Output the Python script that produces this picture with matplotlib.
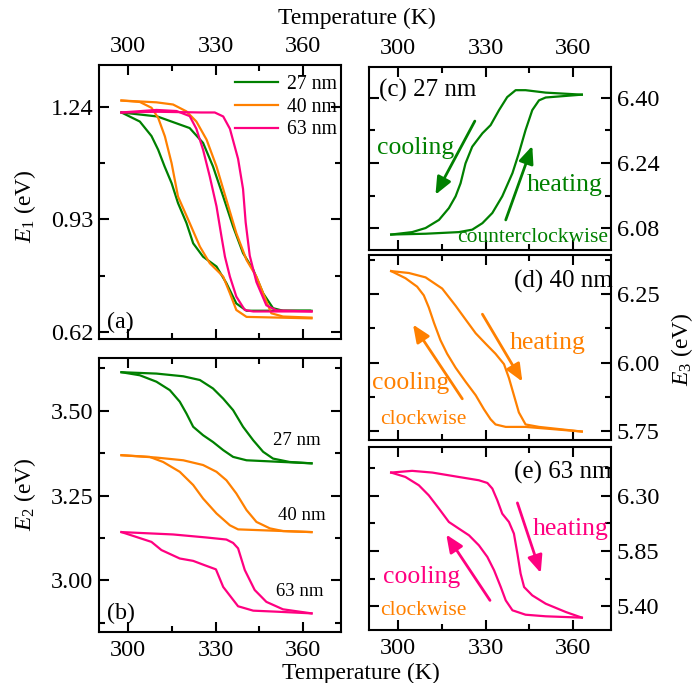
import matplotlib
matplotlib.use("Agg")
import matplotlib.pyplot as plt
from matplotlib.ticker import MultipleLocator

plt.rcParams["font.family"] = ["Liberation Serif", "DejaVu Serif"]
plt.rcParams["mathtext.fontset"] = "custom"
plt.rcParams["mathtext.rm"] = "Liberation Serif"
plt.rcParams["mathtext.it"] = "Liberation Serif:italic"

GREEN, ORANGE, PINK = "#008000", "#FF8000", "#FF0080"

# ── Data: (a) E1 ──────────────────────────────────────────────────────────────
e1_g_cool_t = [297.7, 304.0, 308.0, 310.3, 312.5, 314.9, 317.1, 320.0, 322.3, 325.7, 330.3,
               333.7, 337.1, 340.6, 362.3]
e1_g_cool_v = [1.225, 1.200, 1.160, 1.122, 1.076, 1.030, 0.975, 0.920, 0.864, 0.827, 0.800,
               0.754, 0.698, 0.678, 0.678]
e1_g_heat_t = [297.7, 310.0, 321.1, 325.7, 329.1, 332.6, 336.0, 339.4, 342.9, 346.3, 349.7, 353.1, 362.9]
e1_g_heat_v = [1.225, 1.214, 1.182, 1.141, 1.076, 0.993, 0.910, 0.837, 0.791, 0.726, 0.685, 0.678, 0.678]

e1_o_cool_t = [297.7, 304.0, 308.0, 310.3, 312.6, 314.9, 317.1, 321.1, 324.6, 328.0, 330.9,
               332.6, 334.9, 337.1, 340.6, 362.9]
e1_o_cool_v = [1.258, 1.254, 1.238, 1.210, 1.159, 1.085, 0.993, 0.920, 0.855, 0.809, 0.786,
               0.772, 0.726, 0.680, 0.661, 0.657]
e1_o_heat_t = [297.7, 309.7, 315.4, 320.0, 323.4, 326.9, 330.3, 333.7, 337.1, 340.6, 344.0,
               346.3, 349.1, 353.1, 362.9]
e1_o_heat_v = [1.258, 1.253, 1.247, 1.228, 1.200, 1.150, 1.076, 0.984, 0.892, 0.818, 0.772,
               0.726, 0.671, 0.662, 0.659]

e1_p_cool_t = [297.7, 309.7, 316.6, 321.1, 323.4, 325.7, 328.0, 330.3, 332.0, 333.2, 334.9,
               337.1, 340.0, 342.9, 362.9]
e1_p_cool_v = [1.225, 1.232, 1.229, 1.215, 1.180, 1.122, 1.048, 0.966, 0.883, 0.827, 0.772,
               0.717, 0.680, 0.676, 0.676]
e1_p_heat_t = [297.7, 310.0, 325.0, 329.7, 332.6, 334.9, 337.7, 339.4, 340.3, 341.7, 344.0,
               347.4, 350.9, 362.9]
e1_p_heat_v = [1.225, 1.227, 1.225, 1.225, 1.214, 1.180, 1.097, 1.014, 0.922, 0.830, 0.757,
               0.693, 0.679, 0.676]

# ── Data: (b) E2 ──────────────────────────────────────────────────────────────
e2_g_cool_t = [297.7, 304.0, 309.7, 314.3, 317.7, 320.0, 322.3, 325.7, 329.1, 332.6, 336.0, 340.6, 362.9]
e2_g_cool_v = [3.614, 3.605, 3.586, 3.561, 3.527, 3.492, 3.453, 3.428, 3.408, 3.384, 3.364, 3.354, 3.345]
e2_g_heat_t = [297.7, 309.7, 318.9, 324.6, 329.1, 332.6, 336.0, 339.4, 342.9, 346.3, 349.7, 355.4, 362.9]
e2_g_heat_v = [3.614, 3.610, 3.602, 3.591, 3.566, 3.536, 3.502, 3.453, 3.413, 3.379, 3.359, 3.349, 3.345]

e2_o_cool_t = [297.7, 307.4, 312.0, 317.7, 322.3, 325.7, 330.3, 334.9, 337.7, 344.0, 362.9]
e2_o_cool_v = [3.369, 3.364, 3.349, 3.320, 3.281, 3.241, 3.197, 3.162, 3.150, 3.148, 3.142]
e2_o_heat_t = [297.7, 309.7, 318.9, 325.7, 330.3, 333.7, 337.1, 340.6, 344.0, 348.6, 353.1, 362.9]
e2_o_heat_v = [3.369, 3.362, 3.354, 3.340, 3.320, 3.295, 3.256, 3.207, 3.172, 3.153, 3.145, 3.142]

e2_p_cool_t = [297.7, 308.0, 311.4, 317.7, 322.3, 326.3, 330.1, 332.6, 337.7, 342.9, 350.9, 362.9]
e2_p_cool_v = [3.142, 3.113, 3.089, 3.064, 3.057, 3.044, 3.032, 2.980, 2.923, 2.910, 2.907, 2.902]
e2_p_heat_t = [297.7, 315.4, 326.9, 333.7, 336.0, 337.7, 340.0, 343.4, 347.4, 353.1, 362.9]
e2_p_heat_v = [3.142, 3.135, 3.126, 3.120, 3.110, 3.094, 3.030, 2.971, 2.936, 2.914, 2.902]

# ── Data: (c)-(e) E3 ──────────────────────────────────────────────────────────
e3_g_cool_t = [297.6, 304.8, 309.4, 314.0, 317.4, 319.7, 321.4, 323.1, 325.4, 328.9, 331.7,
               334.6, 337.4, 340.3, 343.7, 350.6, 363.0]
e3_g_cool_v = [6.064, 6.070, 6.080, 6.100, 6.129, 6.158, 6.190, 6.239, 6.280, 6.313, 6.333,
               6.370, 6.402, 6.419, 6.419, 6.413, 6.408]
e3_g_heat_t = [297.6, 309.4, 320.8, 325.4, 328.9, 332.3, 335.7, 339.2, 341.4, 343.7, 346.0,
               348.3, 350.6, 363.0]
e3_g_heat_v = [6.064, 6.066, 6.070, 6.076, 6.092, 6.117, 6.158, 6.215, 6.264, 6.321, 6.370,
               6.394, 6.401, 6.408]

e3_o_cool_t = [297.6, 302.5, 306.5, 308.8, 310.5, 312.3, 314.5, 316.8, 319.7, 323.1, 326.6,
               329.4, 331.7, 333.4, 336.9, 343.7, 348.3, 363.0]
e3_o_cool_v = [6.335, 6.309, 6.278, 6.246, 6.202, 6.145, 6.082, 6.032, 5.981, 5.930, 5.880,
               5.829, 5.792, 5.773, 5.764, 5.764, 5.760, 5.747]
e3_o_heat_t = [297.6, 303.7, 309.4, 315.1, 319.7, 323.1, 326.6, 330.0, 333.4, 336.3, 338.0,
               339.7, 341.4, 343.7, 348.3, 363.0]
e3_o_heat_v = [6.335, 6.328, 6.312, 6.271, 6.208, 6.158, 6.107, 6.069, 6.032, 5.994, 5.943,
               5.880, 5.817, 5.773, 5.764, 5.747]

e3_p_heat_t = [297.6, 304.8, 311.7, 320.8, 327.7, 330.6, 332.3, 334.0, 335.7, 338.0, 339.7,
               340.9, 342.0, 343.2, 346.0, 350.6, 357.5, 363.0]
e3_p_heat_v = [6.491, 6.505, 6.491, 6.455, 6.428, 6.406, 6.360, 6.265, 6.155, 6.087, 5.992,
               5.828, 5.665, 5.555, 5.487, 5.419, 5.351, 5.305]
e3_p_cool_t = [297.6, 302.5, 307.1, 310.5, 314.0, 317.4, 320.8, 324.3, 327.7, 330.6, 332.9,
               335.2, 336.9, 339.2, 343.7, 350.6, 363.0]
e3_p_cool_v = [6.491, 6.455, 6.387, 6.305, 6.196, 6.087, 6.033, 5.978, 5.896, 5.801, 5.692,
               5.555, 5.446, 5.365, 5.329, 5.316, 5.305]

sizes = ["27 nm", "40 nm", "63 nm"]

LW = 1.6
TICK_FS = 17.5


def _style(ax, ylim, ymajor, yminor, xtop=False, xbottom=False, yright=False):
    ax.set_xlim(290, 373)
    ax.set_ylim(*ylim)
    ax.xaxis.set_major_locator(MultipleLocator(30))
    ax.xaxis.set_minor_locator(MultipleLocator(15))
    ax.yaxis.set_major_locator(MultipleLocator(ymajor))
    ax.yaxis.set_minor_locator(MultipleLocator(yminor))
    ax.tick_params(which="both", direction="in", top=True, bottom=True, left=True, right=True,
                   width=1.5, labelsize=TICK_FS)
    ax.tick_params(which="major", length=7)
    ax.tick_params(which="minor", length=4)
    ax.tick_params(axis="x", pad=6, labeltop=xtop, labelbottom=xbottom)
    ax.tick_params(axis="y", pad=4, labelleft=not yright, labelright=yright)
    for s in ax.spines.values():
        s.set_linewidth(1.5)


def _arrow(ax, start, end, color):
    ax.annotate("", xy=end, xytext=start,
                arrowprops=dict(arrowstyle="-|>,head_length=0.7,head_width=0.3",
                                color=color, lw=2, mutation_scale=15,
                                shrinkA=0, shrinkB=0))


fig = plt.figure(figsize=(6.97, 6.83), dpi=100)
W, H = 697, 683


def _rect(l, t, r, b):
    return [l / W, 1 - b / H, (r - l) / W, (b - t) / H]


ax_a = fig.add_axes(_rect(99, 65, 341, 339))
ax_b = fig.add_axes(_rect(99, 358, 341, 632))
ax_c = fig.add_axes(_rect(369, 67, 611, 250))
ax_d = fig.add_axes(_rect(369, 255, 611, 440))
ax_e = fig.add_axes(_rect(369, 447, 611, 630))

# (a)
ax_a.plot(e1_g_cool_t, e1_g_cool_v, color=GREEN, lw=LW, label=sizes[0])
ax_a.plot(e1_g_heat_t, e1_g_heat_v, color=GREEN, lw=LW)
ax_a.plot(e1_o_cool_t, e1_o_cool_v, color=ORANGE, lw=LW, label=sizes[1])
ax_a.plot(e1_o_heat_t, e1_o_heat_v, color=ORANGE, lw=LW)
ax_a.plot(e1_p_cool_t, e1_p_cool_v, color=PINK, lw=LW, label=sizes[2])
ax_a.plot(e1_p_heat_t, e1_p_heat_v, color=PINK, lw=LW)
_style(ax_a, (0.60, 1.356), 0.31, 0.155, xtop=True)
ax_a.legend(loc="upper left", bbox_to_anchor=(0.56, 0.965), frameon=False, fontsize=14.2,
            handlelength=2.2, handletextpad=0.45, labelspacing=0.2, borderpad=0, borderaxespad=0)
ax_a.text(0.033, 0.062, "(a)", transform=ax_a.transAxes, fontsize=17.3, va="center")

# (b)
ax_b.plot(e2_g_cool_t, e2_g_cool_v, color=GREEN, lw=LW)
ax_b.plot(e2_g_heat_t, e2_g_heat_v, color=GREEN, lw=LW)
ax_b.plot(e2_o_cool_t, e2_o_cool_v, color=ORANGE, lw=LW)
ax_b.plot(e2_o_heat_t, e2_o_heat_v, color=ORANGE, lw=LW)
ax_b.plot(e2_p_cool_t, e2_p_cool_v, color=PINK, lw=LW)
ax_b.plot(e2_p_heat_t, e2_p_heat_v, color=PINK, lw=LW)
_style(ax_b, (2.847, 3.656), 0.25, 0.125, xbottom=True)
ax_b.text(357.9, 3.411, sizes[0], fontsize=13.5, ha="center", va="center")
ax_b.text(359.7, 3.190, sizes[1], fontsize=13.5, ha="center", va="center")
ax_b.text(359.0, 2.966, sizes[2], fontsize=13.5, ha="center", va="center")
ax_b.text(0.033, 0.069, "(b)", transform=ax_b.transAxes, fontsize=17.3, va="center")

# (c)
ax_c.plot(e3_g_cool_t, e3_g_cool_v, color=GREEN, lw=LW)
ax_c.plot(e3_g_heat_t, e3_g_heat_v, color=GREEN, lw=LW)
_style(ax_c, (6.026, 6.476), 0.16, 0.08, xtop=True, yright=True)
_arrow(ax_c, (326.3, 6.343), (312.8, 6.162), GREEN)
_arrow(ax_c, (336.9, 6.100), (346.0, 6.282), GREEN)
ax_c.text(293.4, 6.419, "(c) 27 nm", fontsize=18, va="center")
ax_c.text(306.0, 6.276, "cooling", fontsize=18.5, color=GREEN, ha="center", va="center")
ax_c.text(357.1, 6.186, "heating", fontsize=18.5, color=GREEN, ha="center", va="center")
ax_c.text(346.0, 6.056, "counterclockwise", fontsize=15.5, color=GREEN, ha="center", va="center")

# (d)
ax_d.plot(e3_o_cool_t, e3_o_cool_v, color=ORANGE, lw=LW)
ax_d.plot(e3_o_heat_t, e3_o_heat_v, color=ORANGE, lw=LW)
_style(ax_d, (5.716, 6.394), 0.25, 0.125, yright=True)
_arrow(ax_d, (328.9, 6.177), (342.6, 5.930), ORANGE)
_arrow(ax_d, (322.0, 5.867), (305.1, 6.139), ORANGE)
ax_d.text(339.7, 6.297, "(d) 40 nm", fontsize=18, va="center")
ax_d.text(351.4, 6.072, "heating", fontsize=18.5, color=ORANGE, ha="center", va="center")
ax_d.text(304.2, 5.924, "cooling", fontsize=18.5, color=ORANGE, ha="center", va="center")
ax_d.text(308.5, 5.792, "clockwise", fontsize=15.5, color=ORANGE, ha="center", va="center")

# (e)
ax_e.plot(e3_p_heat_t, e3_p_heat_v, color=PINK, lw=LW)
ax_e.plot(e3_p_cool_t, e3_p_cool_v, color=PINK, lw=LW)
_style(ax_e, (5.204, 6.70), 0.45, 0.225, xbottom=True, yright=True)
_arrow(ax_e, (340.9, 6.243), (348.9, 5.670), PINK)
_arrow(ax_e, (331.5, 5.446), (316.5, 5.984), PINK)
ax_e.text(339.7, 6.496, "(e) 63 nm", fontsize=18, va="center")
ax_e.text(359.2, 6.027, "heating", fontsize=18.5, color=PINK, ha="center", va="center")
ax_e.text(308.2, 5.637, "cooling", fontsize=18.5, color=PINK, ha="center", va="center")
ax_e.text(308.5, 5.365, "clockwise", fontsize=15.5, color=ORANGE, ha="center", va="center")

# axis labels
LABEL_FS = 17
fig.text(357 / W, 1 - 18 / H, "Temperature (K)", fontsize=LABEL_FS, ha="center", va="center")
fig.text(361 / W, 1 - 673 / H, "Temperature (K)", fontsize=LABEL_FS, ha="center", va="center")
fig.text(25 / W, 1 - 206 / H, r"$E_1$ (eV)", fontsize=LABEL_FS, rotation=90, ha="center", va="center")
fig.text(25 / W, 1 - 494 / H, r"$E_2$ (eV)", fontsize=LABEL_FS, rotation=90, ha="center", va="center")
fig.text(682 / W, 1 - 349 / H, r"$E_3$ (eV)", fontsize=LABEL_FS, rotation=90, ha="center", va="center")

fig.savefig("out.png", dpi=100, facecolor="white")
